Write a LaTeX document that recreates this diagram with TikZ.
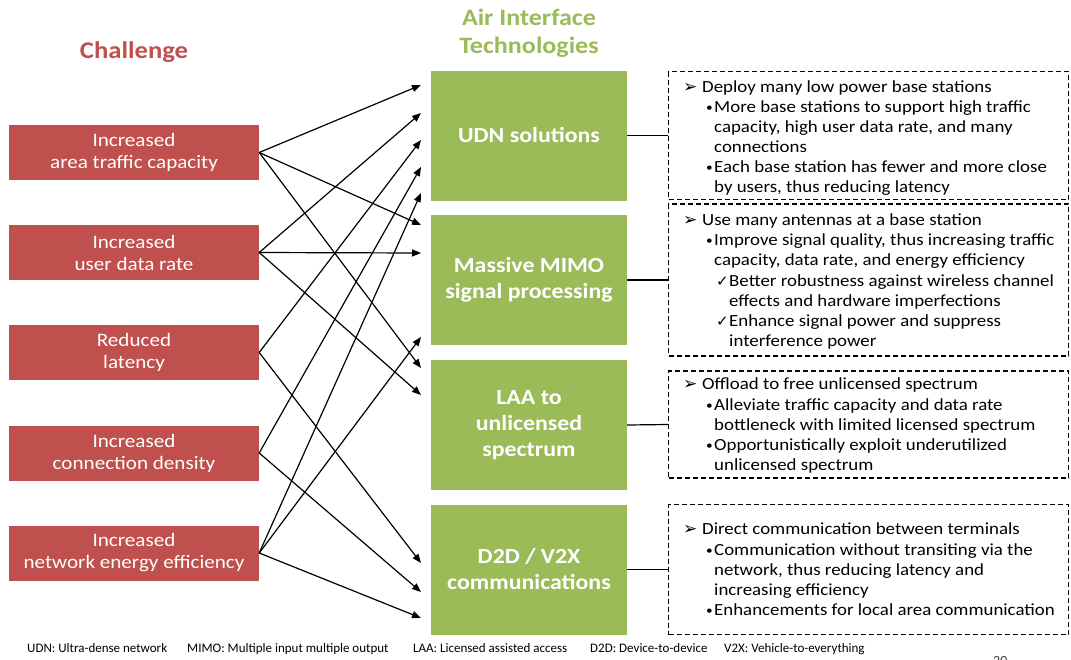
\documentclass[tikz,border=0pt]{standalone}
\usepackage{fontspec}
\setmainfont{Carlito}[FakeStretch=1.11]
\newfontfamily\footfont{Carlito}
\newfontfamily\symfont{DejaVu Sans}
\usetikzlibrary{arrows.meta}
\definecolor{chred}{HTML}{C0504D}
\definecolor{tkgreen}{HTML}{9BBB59}
\definecolor{pagegray}{HTML}{404040}

% line layouts inside the description boxes
\newcommand\nHead[1]{\makebox[19pt][l]{\symfont\fontsize{17}{17}\selectfont ➢}#1}
\newcommand\nBul[1]{\hspace*{23pt}\makebox[8pt][l]{\raisebox{1pt}{\fontsize{12}{12}\selectfont •}}#1}
\newcommand\nBulC[1]{\hspace*{31pt}#1}
\newcommand\nChk[1]{\hspace*{33pt}\makebox[13pt][l]{\symfont\fontsize{15}{15}\selectfont ✓}#1}
\newcommand\nChkC[1]{\hspace*{46pt}#1}

\begin{document}
\begin{tikzpicture}[x=1pt,y=-1pt,
  chal/.style={rectangle, fill=chred, text=white, minimum width=250pt,
    minimum height=55pt, align=center, inner sep=0pt,
    font=\fontsize{19}{22}\selectfont},
  tech/.style={rectangle, fill=tkgreen, text=white, minimum width=196pt,
    minimum height=130pt, align=center, inner sep=0pt,
    font=\bfseries\fontsize{21.5}{26}\selectfont},
  note/.style={draw, dash pattern=on 5pt off 3pt, line width=1.2pt,
    minimum width=400pt, inner sep=0pt},
  link/.style={line width=1.2pt, -{Triangle[length=9pt,width=7pt]}},
  tie/.style={line width=1.2pt},
  ln/.style={anchor=base west, inner sep=0pt, font=\fontsize{17}{20}\selectfont},
  foot/.style={anchor=base west, inner sep=0pt, font=\footfont\fontsize{13}{15}\selectfont}
]
\useasboundingbox (0,0) rectangle (1071,659);
\fill[white] (0,0) rectangle (1071,659);

% column titles
\node[font=\bfseries\fontsize{24}{28}\selectfont, text=chred] (tchal) at (134,52) {Challenge};
\node[font=\bfseries\fontsize{23.5}{28}\selectfont, text=tkgreen, align=center] (ttech) at (529,33) {Air Interface\\Technologies};

% challenges
\node[chal] (c1) at (134,152.5) {Increased\\area traffic capacity};
\node[chal] (c2) at (134,252.5) {Increased\\user data rate};
\node[chal] (c3) at (134,352.5) {Reduced\\latency};
\node[chal] (c4) at (134,453) {Increased\\connection density};
\node[chal] (c5) at (134,553) {Increased\\network energy efficiency};

% technologies
\node[tech] (udn) at (529,135.5) {UDN solutions};
\node[tech] (mimo) at (529,280) {Massive MIMO\\signal processing};
\node[tech] (laa) at (529,425) {LAA to\\unlicensed\\spectrum};
\node[tech] (d2d) at (529,569.5) {D2D / V2X\\communications};

% arrow targets in front of the technology boxes
\coordinate (u1) at (421,85);
\coordinate (u2) at (421,113);
\coordinate (u3) at (421,140);
\coordinate (u4) at (421,167);
\coordinate (u5) at (421,193);
\coordinate (m1) at (421,225);
\coordinate (m2) at (421,253);
\coordinate (m3) at (421,337);
\coordinate (l1) at (421,368);
\coordinate (l2) at (421,395);
\coordinate (v1) at (421,563);
\coordinate (v2) at (421,592);
\coordinate (v3) at (421,618);

\draw[link] (c1.east) -- (u1);
\draw[link] (c1.east) -- (m1);
\draw[link] (c1.east) -- (l1);
\draw[link] (c2.east) -- (u2);
\draw[link] (c2.east) -- (m2);
\draw[link] (c2.east) -- (l2);
\draw[link] (c3.east) -- (u3);
\draw[link] (c3.east) -- (v1);
\draw[link] (c4.east) -- (u4);
\draw[link] (c4.east) -- (v2);
\draw[link] (c5.east) -- (u5);
\draw[link] (c5.east) -- (m3);
\draw[link] (c5.east) -- (v3);

% description boxes
\node[note, minimum height=128pt] (d1) at (868.5,135.5) {};
\node[note, minimum height=152pt] (d2) at (868.5,280) {};
\node[note, minimum height=107pt] (d3) at (868.5,424.5) {};
\node[note, minimum height=130pt] (d4) at (868.5,569.5) {};

\draw[tie] (udn.east) -- (d1.west);
\draw[tie] (mimo.east) -- (d2.west);
\draw[tie] (laa.east) -- (d3.west);
\draw[tie] (d2d.east) -- (d4.west);

% UDN description
\node[ln] (a1) at (683,92) {\nHead{Deploy many low power base stations}};
\node[ln] (a2) at (683,112) {\nBul{More base stations to support high traffic}};
\node[ln] (a3) at (683,132) {\nBulC{capacity, high user data rate, and many}};
\node[ln] (a4) at (683,152) {\nBulC{connections}};
\node[ln] (a5) at (683,172) {\nBul{Each base station has fewer and more close}};
\node[ln] (a6) at (683,192) {\nBulC{by users, thus reducing latency}};

% massive MIMO description
\node[ln] (b1) at (683,225) {\nHead{Use many antennas at a base station}};
\node[ln] (b2) at (683,245) {\nBul{Improve signal quality, thus increasing traffic}};
\node[ln] (b3) at (683,265) {\nBulC{capacity, data rate, and energy efficiency}};
\node[ln] (b4) at (683,286) {\nChk{Better robustness against wireless channel}};
\node[ln] (b5) at (683,306) {\nChkC{effects and hardware imperfections}};
\node[ln] (b6) at (683,326) {\nChk{Enhance signal power and suppress}};
\node[ln] (b7) at (683,346) {\nChkC{interference power}};

% LAA description
\node[ln] (e1) at (683,389) {\nHead{Offload to free unlicensed spectrum}};
\node[ln] (e2) at (683,410) {\nBul{Alleviate traffic capacity and data rate}};
\node[ln] (e3) at (683,430) {\nBulC{bottleneck with limited licensed spectrum}};
\node[ln] (e4) at (683,450) {\nBul{Opportunistically exploit underutilized}};
\node[ln] (e5) at (683,470) {\nBulC{unlicensed spectrum}};

% D2D / V2X description
\node[ln] (f1) at (683,534) {\nHead{Direct communication between terminals}};
\node[ln] (f2) at (683,555) {\nBul{Communication without transiting via the}};
\node[ln] (f3) at (683,575) {\nBulC{network, thus reducing latency and}};
\node[ln] (f4) at (683,595) {\nBulC{increasing efficiency}};
\node[ln] (f5) at (683,615) {\nBul{Enhancements for local area communication}};

% abbreviations
\node[foot] (k1) at (27,652) {UDN: Ultra-dense network};
\node[foot] (k2) at (187,652) {MIMO: Multiple input multiple output};
\node[foot] (k3) at (413,652) {LAA: Licensed assisted access};
\node[foot] (k4) at (590,652) {D2D: Device-to-device};
\node[foot] (k5) at (724,652) {V2X: Vehicle-to-everything};

% page number, cut by the lower edge
\begin{scope}
\clip (0,0) rectangle (1071,659);
\node[anchor=base west, inner sep=0pt, text=pagegray, font=\footfont\fontsize{14}{16}\selectfont] (pg) at (993,665) {20};
\end{scope}
\end{tikzpicture}
\end{document}
